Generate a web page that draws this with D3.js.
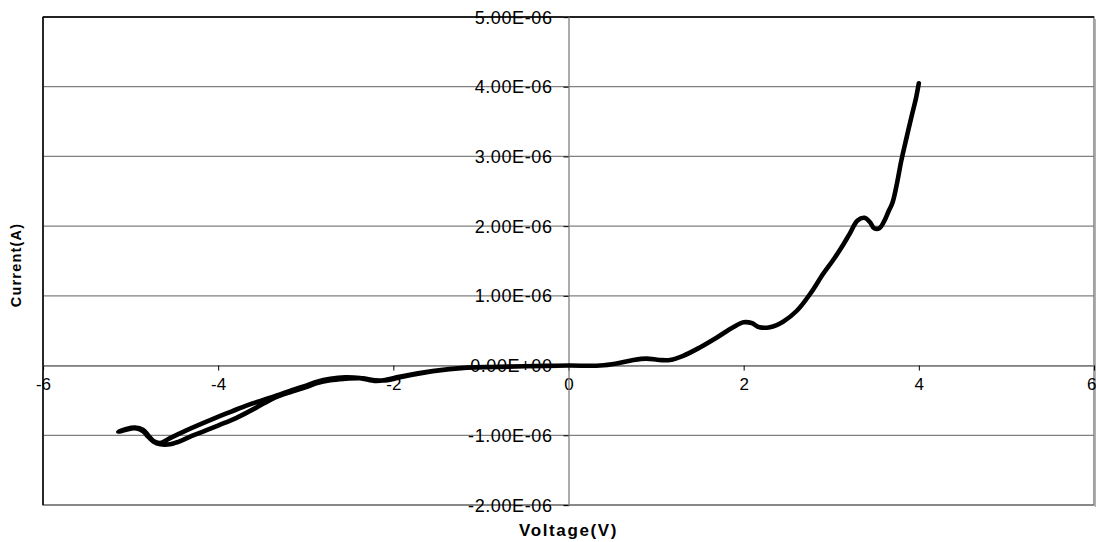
<!DOCTYPE html>
<html>
<head>
<meta charset="utf-8">
<script src="https://cdn.jsdelivr.net/npm/d3@7"></script>
<style>
  body { margin: 0; background: #fff; }
  svg { display: block; }
  text { font-family: "Liberation Sans", Arial, sans-serif; }
</style>
</head>
<body>
<svg id="chart" width="1096" height="542"></svg>
<script>
// Voltage (V) and current (A) of the sweep, in plotting order
const voltage = [
  0.00, -0.50, -0.85, -1.16, -1.55, -1.93, -2.07, -2.20, -2.38, -2.55, -2.72, -2.87, -2.98,
  -3.15, -3.33, -3.50, -3.67, -3.85, -4.01, -4.20, -4.40, -4.55, -4.66, -4.74, -4.80, -4.86, -4.95, -5.05, -5.14,
  -5.05, -4.95, -4.86, -4.80, -4.74, -4.66, -4.55, -4.47, -4.30, -4.06, -3.92, -3.79, -3.56, -3.37, -3.15, -2.98,
  -2.87, -2.72, -2.55, -2.38, -2.20, -2.07, -1.93, -1.55, -1.16, -0.85, -0.50, 0.00,
  0.36, 0.55, 0.74, 0.89, 1.04, 1.16, 1.31, 1.50, 1.69, 1.88, 2.00, 2.09, 2.18, 2.30, 2.45, 2.61, 2.76,
  2.91, 3.02, 3.12, 3.21, 3.30, 3.38, 3.44, 3.49, 3.55, 3.60, 3.65, 3.70, 3.75, 3.80, 3.86, 3.92, 3.97, 4.00
];
const current = [
  0.00e-6, -0.01e-6, -0.02e-6, -0.03e-6, -0.08e-6, -0.16e-6, -0.20e-6, -0.22e-6, -0.18e-6, -0.17e-6, -0.19e-6, -0.23e-6, -0.28e-6,
  -0.35e-6, -0.43e-6, -0.50e-6, -0.57e-6, -0.66e-6, -0.74e-6, -0.84e-6, -0.95e-6, -1.04e-6, -1.11e-6, -1.08e-6, -1.00e-6, -0.92e-6, -0.89e-6, -0.91e-6, -0.95e-6,
  -0.92e-6, -0.90e-6, -0.94e-6, -1.02e-6, -1.09e-6, -1.13e-6, -1.13e-6, -1.10e-6, -1.01e-6, -0.89e-6, -0.82e-6, -0.75e-6, -0.60e-6, -0.47e-6, -0.37e-6, -0.30e-6,
  -0.25e-6, -0.21e-6, -0.19e-6, -0.18e-6, -0.21e-6, -0.21e-6, -0.17e-6, -0.08e-6, -0.03e-6, -0.02e-6, -0.01e-6, 0.00e-6,
  0.00e-6, 0.03e-6, 0.08e-6, 0.10e-6, 0.08e-6, 0.08e-6, 0.14e-6, 0.26e-6, 0.40e-6, 0.55e-6, 0.62e-6, 0.61e-6, 0.55e-6, 0.55e-6, 0.63e-6, 0.79e-6, 1.03e-6,
  1.32e-6, 1.51e-6, 1.70e-6, 1.89e-6, 2.08e-6, 2.12e-6, 2.06e-6, 1.97e-6, 1.97e-6, 2.06e-6, 2.20e-6, 2.34e-6, 2.61e-6, 2.94e-6, 3.27e-6, 3.59e-6, 3.85e-6, 4.05e-6
];
const xTicks = [-6, -4, -2, 0, 2, 4, 6];
const yTicks = [5e-6, 4e-6, 3e-6, 2e-6, 1e-6, 0, -1e-6, -2e-6];
const yTickLabels = ["5.00E-06", "4.00E-06", "3.00E-06", "2.00E-06", "1.00E-06", "0.00E+00", "-1.00E-06", "-2.00E-06"];
const xTitle = "Voltage(V)";
const yTitle = "Current(A)";

const svg = d3.select("#chart");
const pL = 43, pR = 1094, pT = 17, pB = 505;

const x = d3.scaleLinear().domain([-6, 6]).range([pL, pR]);
const y = d3.scaleLinear().domain([-2e-6, 5e-6]).range([pB, pT]);

// gridlines
svg.append("g").selectAll("line").data(yTicks).join("line")
  .attr("x1", pL).attr("x2", pR)
  .attr("y1", d => y(d)).attr("y2", d => y(d))
  .attr("stroke", "#808080").attr("stroke-width", 1.3);

// plot frame
svg.append("rect").attr("x", pL).attr("y", pT)
  .attr("width", pR - pL).attr("height", pB - pT)
  .attr("fill", "none").attr("stroke", "#808080").attr("stroke-width", 1.5);
svg.append("line").attr("x1", pL).attr("x2", pR).attr("y1", pT).attr("y2", pT)
  .attr("stroke", "#000").attr("stroke-width", 1.5);
svg.append("line").attr("x1", pL).attr("x2", pL).attr("y1", pT).attr("y2", pB)
  .attr("stroke", "#000").attr("stroke-width", 1.5);
svg.append("line").attr("x1", pR + 1.5).attr("x2", pR + 1.5).attr("y1", pT + 2).attr("y2", pB + 2)
  .attr("stroke", "#b0b0b0").attr("stroke-width", 1.5);

// x axis at y = 0
const xAxis = d3.axisBottom(x).tickValues(xTicks).tickSize(5).tickFormat(d => String(d));
const gx = svg.append("g").attr("transform", `translate(0,${y(0)})`).call(xAxis);
gx.select(".domain").attr("stroke", "#808080").attr("stroke-width", 1.3);
gx.selectAll(".tick line").attr("stroke", "#000");
gx.selectAll(".tick text").attr("font-size", 17).attr("fill", "#000")
  .attr("font-family", "Liberation Sans, Arial, sans-serif").attr("dy", "0.95em")
  .attr("text-anchor", d => d === 6 ? "end" : "middle")
  .attr("x", d => d === 6 ? 2 : 0);

// y axis at x = 0
const yAxis = d3.axisLeft(y).tickValues(yTicks).tickSize(5)
  .tickFormat((d, i) => yTickLabels[i]);
const gy = svg.append("g").attr("transform", `translate(${x(0)},0)`).call(yAxis);
gy.select(".domain").attr("stroke", "#808080").attr("stroke-width", 1.3);
gy.selectAll(".tick line").attr("stroke", "#000");
gy.selectAll(".tick text").attr("font-size", 18).attr("fill", "#000")
  .attr("font-family", "Liberation Sans, Arial, sans-serif")
  .attr("x", -16).attr("dy", "0.34em").attr("letter-spacing", "0.6px");

// data line
const pts = voltage.map((v, i) => [v, current[i]]);
const line = d3.line().x(d => x(d[0])).y(d => y(d[1])).curve(d3.curveCatmullRom.alpha(0.5));
svg.append("path").datum(pts).attr("d", line)
  .attr("fill", "none").attr("stroke", "#000").attr("stroke-width", 4.6)
  .attr("stroke-linejoin", "round").attr("stroke-linecap", "round");

// titles
svg.append("text").attr("x", (pL + pR) / 2).attr("y", 536)
  .attr("text-anchor", "middle").attr("font-weight", "bold").attr("font-size", 17)
  .attr("letter-spacing", "1.6px").text(xTitle);
svg.append("text").attr("transform", `translate(21,${(pT + pB) / 2 + 4}) rotate(-90)`)
  .attr("text-anchor", "middle").attr("font-weight", "bold").attr("font-size", 14.5)
  .attr("letter-spacing", "1.2px").text(yTitle);
</script>
</body>
</html>
